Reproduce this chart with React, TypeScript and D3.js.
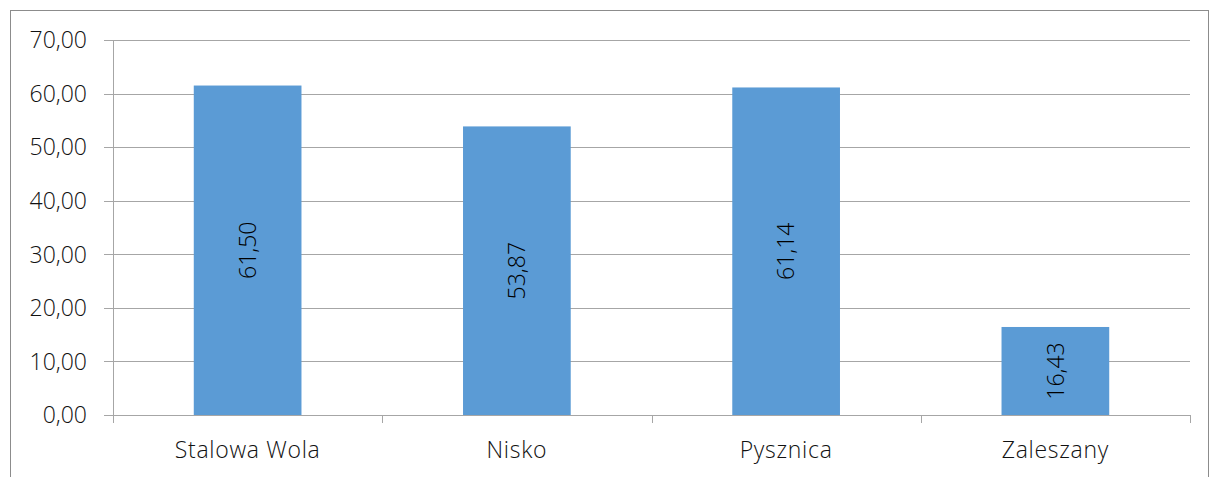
import React from "react";
import * as d3 from "d3";

const categories = ["Stalowa Wola", "Nisko", "Pysznica", "Zaleszany"];
const values = [61.5, 53.87, 61.14, 16.43];
const yTicks = [0, 10, 20, 30, 40, 50, 60, 70];

const fmt = (v: number) => v.toFixed(2).replace(".", ",");

export default function App() {
  const W = 1209, H = 477;
  const left = 113, right = 1190, top = 40, bottom = 415;
  const x = d3.scaleBand<string>().domain(categories).range([left, right]).paddingInner(0.6).paddingOuter(0.3);
  const xOuter = d3.scaleBand<string>().domain(categories).range([left, right]);
  const y = d3.scaleLinear().domain([0, 70]).range([bottom, top]);
  const font = "'Open Sans', sans-serif";
  return (
    <svg width={W} height={H} style={{ position: "absolute", left: 0, top: 0, background: "#fff" }}>
      <rect x={10.5} y={10.5} width={1198} height={480} fill="#fff" stroke="#8c8c8c" strokeWidth={1} />
      {yTicks.map((t) => (
        <g key={t}>
          <line x1={104} x2={right} y1={Math.round(y(t)) + 0.5} y2={Math.round(y(t)) + 0.5} stroke="#a6a6a6" strokeWidth={1} />
          <text x={87} y={y(t)} dy="0.36em" textAnchor="end" fontFamily={font} fontWeight={300} fontSize={23} fill="#111">
            {fmt(t)}
          </text>
        </g>
      ))}
      <line x1={left + 0.5} x2={left + 0.5} y1={top} y2={bottom + 1} stroke="#a6a6a6" />
      {categories.map((c, i) => (
        <line key={"tk" + i} x1={Math.round(xOuter(c)!) + 0.5} x2={Math.round(xOuter(c)!) + 0.5} y1={bottom} y2={bottom + 8} stroke="#a6a6a6" />
      ))}
      <line x1={right + 0.5} x2={right + 0.5} y1={bottom} y2={bottom + 8} stroke="#a6a6a6" />
      {categories.map((c, i) => {
        const bx = x(c)!;
        const by = y(values[i]);
        const cx = bx + x.bandwidth() / 2;
        const cy = (by + bottom) / 2;
        return (
          <g key={c}>
            <rect x={bx} y={by} width={x.bandwidth()} height={bottom - by} fill="#5b9bd5" />
            <text transform={`translate(${cx},${cy}) rotate(-90)`} textAnchor="middle" dy="0.36em" fontFamily={font} fontWeight={300} fontSize={23} fill="#000">
              {fmt(values[i])}
            </text>
            <text x={xOuter(c)! + xOuter.bandwidth() / 2} y={450} dy="0.36em" textAnchor="middle" fontFamily={font} fontWeight={300} fontSize={23} letterSpacing={0.7} fill="#111">
              {c}
            </text>
          </g>
        );
      })}
    </svg>
  );
}
